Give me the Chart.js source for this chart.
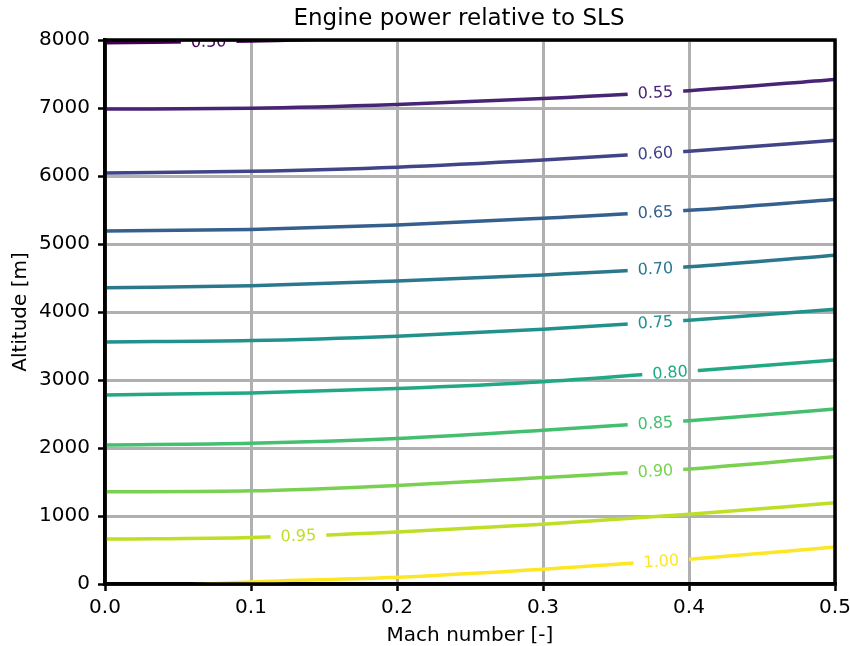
<!DOCTYPE html>
<html>
<head>
<meta charset="utf-8">
<script src="https://cdn.jsdelivr.net/npm/chart.js@4"></script>
<style>
  body { margin: 0; background: #fff; }
  canvas { display: block; }
</style>
</head>
<body>
<canvas id="chartCanvas" width="850" height="646"></canvas>
<script>
// Mach numbers where the altitudes were read
const machs = [0, 0.1, 0.2, 0.3, 0.4, 0.5];

// Altitude [m] of each contour of relative power
const alt050 = [7960, 7985, 8050, 8160, 8310, 8500];
const alt055 = [6985, 6995, 7050, 7140, 7255, 7420];
const alt060 = [6045, 6070, 6130, 6235, 6365, 6525];
const alt065 = [5190, 5215, 5280, 5380, 5495, 5655];
const alt070 = [4355, 4385, 4455, 4545, 4665, 4835];
const alt075 = [3560, 3580, 3645, 3745, 3880, 4040];
const alt080 = [2780, 2810, 2875, 2975, 3130, 3295];
const alt085 = [2045, 2070, 2140, 2260, 2400, 2575];
const alt090 = [1355, 1370, 1450, 1565, 1690, 1870];
const alt095 = [660, 685, 765, 880, 1025, 1195];
const alt100 = [-70, 30, 98, 216, 363, 544];

const levels = ['0.50', '0.55', '0.60', '0.65', '0.70', '0.75', '0.80', '0.85', '0.90', '0.95', '1.00'];
const altitudes = [alt050, alt055, alt060, alt065, alt070, alt075, alt080, alt085, alt090, alt095, alt100];
// Mach number where each inline label sits
const labelMach = [0.071, 0.377, 0.377, 0.377, 0.377, 0.377, 0.387, 0.377, 0.377, 0.1325, 0.381];

const xTicks = [0, 0.1, 0.2, 0.3, 0.4, 0.5];
const yTicks = [0, 1000, 2000, 3000, 4000, 5000, 6000, 7000, 8000];

const chartTitle = 'Engine power relative to SLS';

// viridis, one colour per level
const colors = ['#440154', '#482475', '#414487', '#355f8d', '#2a788e', '#21918c',
                '#22a884', '#44bf70', '#7ad151', '#bddf26', '#fde725'];

const FONT = 'DejaVu Sans';
const LABEL_FONT = '16px "DejaVu Sans"';

const datasets = levels.map((lvl, i) => ({
  label: lvl,
  data: machs.map((m, j) => ({ x: m, y: altitudes[i][j] })),
  borderColor: colors[i],
  borderWidth: 3.5,
  pointRadius: 0,
  cubicInterpolationMode: 'monotone',
  fill: false
}));

// linear interpolation along a contour
const altAt = (arr, m) => {
  for (let j = 0; j < machs.length - 1; j++) {
    if (m <= machs[j + 1]) {
      const t = (m - machs[j]) / (machs[j + 1] - machs[j]);
      return arr[j] + t * (arr[j + 1] - arr[j]);
    }
  }
  return arr[arr.length - 1];
};

// label box for dataset i, in pixels
const labelBox = (chart, i) => {
  const xs = chart.scales.x, ys = chart.scales.y;
  const m = labelMach[i];
  const cx = xs.getPixelForValue(m);
  const cy = ys.getPixelForValue(altAt(altitudes[i], m));
  const dx = xs.getPixelForValue(m + 0.02) - xs.getPixelForValue(m - 0.02);
  const dy = ys.getPixelForValue(altAt(altitudes[i], m + 0.02)) - ys.getPixelForValue(altAt(altitudes[i], m - 0.02));
  const angle = Math.atan2(dy, dx);
  const ctx = chart.ctx;
  ctx.save();
  ctx.font = LABEL_FONT;
  const w = ctx.measureText(levels[i]).width;
  ctx.restore();
  return { cx, cy, angle, hw: w / 2 + 10, hh: 12 };
};

const contourLabels = {
  id: 'contourLabels',
  beforeDatasetDraw(chart, args) {
    // cut the line where its label goes
    const b = labelBox(chart, args.index);
    const ctx = chart.ctx;
    const c = Math.cos(b.angle), s = Math.sin(b.angle);
    const pt = (u, v) => [b.cx + u * c - v * s, b.cy + u * s + v * c];
    ctx.save();
    ctx.beginPath();
    ctx.rect(0, 0, chart.width, chart.height);
    const corners = [pt(-b.hw, -b.hh), pt(b.hw, -b.hh), pt(b.hw, b.hh), pt(-b.hw, b.hh)];
    ctx.moveTo(corners[0][0], corners[0][1]);
    corners.slice(1).forEach(p => ctx.lineTo(p[0], p[1]));
    ctx.closePath();
    ctx.clip('evenodd');
  },
  afterDatasetDraw(chart) {
    chart.ctx.restore();
  },
  afterDatasetsDraw(chart) {
    const ctx = chart.ctx;
    const a = chart.chartArea;
    ctx.save();
    ctx.beginPath();
    ctx.rect(a.left, a.top, a.right - a.left, a.bottom - a.top);
    ctx.clip();
    ctx.font = LABEL_FONT;
    ctx.textAlign = 'center';
    ctx.textBaseline = 'middle';
    levels.forEach((lvl, i) => {
      const b = labelBox(chart, i);
      ctx.save();
      ctx.translate(b.cx, b.cy);
      ctx.rotate(b.angle);
      ctx.fillStyle = colors[i];
      ctx.fillText(lvl, 0, 1);
      ctx.restore();
    });
    ctx.restore();
  },
  afterDraw(chart) {
    const ctx = chart.ctx;
    const a = chart.chartArea;
    ctx.save();
    // black frame round the plot
    ctx.strokeStyle = '#000';
    ctx.lineWidth = 3.5;
    ctx.strokeRect(a.left, a.top, a.right - a.left, a.bottom - a.top);
    // title
    ctx.fillStyle = '#000';
    ctx.font = '23px "DejaVu Sans"';
    ctx.textAlign = 'center';
    ctx.textBaseline = 'middle';
    ctx.fillText(chartTitle, 459, 19);
    ctx.restore();
  }
};

const gridOpts = {
  color: '#b0b0b0',
  lineWidth: 3,
  tickColor: '#000',
  tickLength: 7,
  tickWidth: 2.5
};

new Chart(document.getElementById('chartCanvas'), {
  type: 'line',
  data: { datasets },
  plugins: [contourLabels],
  options: {
    responsive: false,
    animation: false,
    events: [],
    layout: { padding: { top: 40, right: 15, bottom: 0, left: 0 } },
    plugins: {
      legend: { display: false },
      tooltip: { enabled: false },
      title: { display: false }
    },
    scales: {
      x: {
        type: 'linear',
        min: 0,
        max: 0.5,
        afterBuildTicks: s => { s.ticks = xTicks.map(v => ({ value: v })); },
        afterFit: s => { s.height = 62; s.paddingLeft = 0; s.paddingRight = 0; },
        ticks: {
          color: '#000',
          padding: 5,
          maxRotation: 0,
          font: { family: FONT, size: 20 },
          callback: v => v.toFixed(1)
        },
        grid: gridOpts,
        border: { display: true, color: '#000', width: 3.5 },
        title: {
          display: true,
          text: 'Mach number [-]',
          color: '#000',
          font: { family: FONT, size: 20 },
          padding: { top: 0, bottom: -2 }
        }
      },
      y: {
        type: 'linear',
        min: 0,
        max: 8000,
        afterBuildTicks: s => { s.ticks = yTicks.map(v => ({ value: v })); },
        afterFit: s => { s.width = 105; s.paddingTop = 0; s.paddingBottom = 0; },
        ticks: {
          color: '#000',
          padding: 8,
          font: { family: FONT, size: 20 },
          callback: v => String(v)
        },
        grid: gridOpts,
        border: { display: true, color: '#000', width: 3.5 },
        title: {
          display: true,
          text: 'Altitude [m]',
          color: '#000',
          font: { family: FONT, size: 20 },
          padding: { top: 9, bottom: 0 }
        }
      }
    }
  }
});
</script>
</body>
</html>
